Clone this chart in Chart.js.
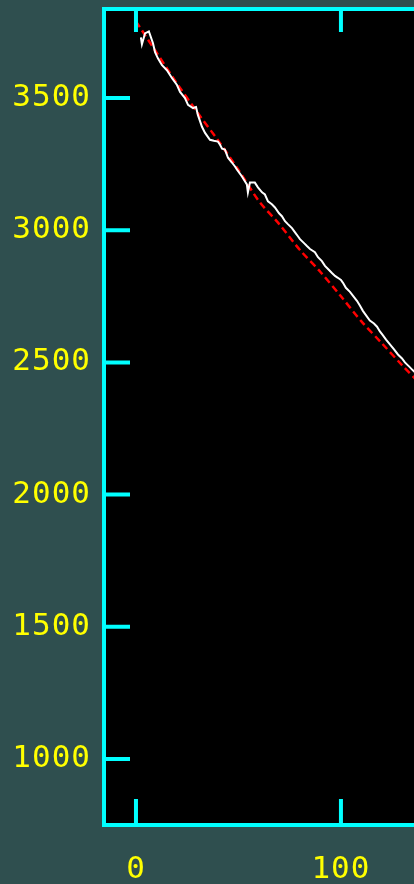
<!DOCTYPE html>
<html>
<head>
<meta charset="utf-8">
<script src="https://cdn.jsdelivr.net/npm/chart.js@4/dist/chart.umd.min.js"></script>
<style>
  html, body { margin: 0; padding: 0; background: #2f4f4f; overflow: hidden; width: 414px; height: 884px; }
  #wrap { width: 414px; height: 884px; overflow: hidden; }
  canvas { display: block; }
</style>
</head>
<body>
<div id="wrap"><canvas id="c" width="800" height="884"></canvas></div>
<script>
// Measured profile (white trace)
const obsX = [2.4, 2.9, 4.4, 6.3, 8.3, 9.3, 10.7, 12.7, 15.1, 17.6, 20.0, 21.5, 23.9, 25.4, 27.8,
  29.3, 30.2, 32.2, 33.7, 36.1, 38.0, 40.0, 41.0, 42.0, 43.4, 44.9, 46.8, 48.3, 49.3, 51.7,
  53.2, 54.1, 54.6, 55.6, 58.0, 59.5, 61.5, 62.9, 64.4, 66.3, 67.8, 69.8, 71.2, 72.7, 74.1,
  76.1, 77.6, 79.0, 80.0, 82.0, 83.4, 84.9, 87.3, 88.8, 90.7, 92.2, 93.7, 95.6, 97.1, 98.5,
  100.0, 101.0, 102.4, 104.4, 105.9, 107.8, 109.3, 110.7, 112.7, 114.1, 116.1, 117.6, 119.0,
  120.5, 122.0, 123.9, 125.9, 127.8, 129.8, 131.2, 133.2, 135.1, 137.1];
const obsY = [3729, 3703, 3744, 3752, 3707, 3673, 3650, 3624, 3605, 3575, 3549, 3523, 3500, 3474, 3462,
  3466, 3436, 3391, 3368, 3342, 3338, 3335, 3323, 3308, 3305, 3274, 3256, 3241, 3229, 3203,
  3184, 3173, 3143, 3180, 3180, 3162, 3143, 3135, 3109, 3098, 3086, 3064, 3053, 3034, 3023,
  3008, 2992, 2977, 2966, 2951, 2940, 2929, 2917, 2898, 2883, 2865, 2853, 2838, 2827, 2820,
  2812, 2801, 2782, 2767, 2752, 2733, 2714, 2695, 2673, 2658, 2647, 2635, 2617,
  2602, 2586, 2568, 2549, 2530, 2515, 2500, 2485, 2470, 2455];

// Fitted curve (red dashed)
const fitX = [0, 10, 20, 30, 40, 50, 60, 70, 80, 90, 100, 110, 120, 130, 140];
const fitY = [3790, 3672, 3555, 3445, 3340, 3228, 3110, 3022, 2925, 2842, 2750, 2655, 2572, 2488, 2408];

// Tick values
const xTicks = [0, 100, 200, 300];
const yTicks = [1000, 1500, 2000, 2500, 3000, 3500];

const CYAN = '#00ffff';
const YELLOW = '#ffff00';
const FONT = { family: 'DejaVu Sans Mono', size: 31 };

const framePlugin = {
  id: 'frame',
  beforeDraw(chart) {
    const { ctx, chartArea: a } = chart;
    ctx.save();
    ctx.fillStyle = '#000000';
    ctx.fillRect(a.left, a.top, a.right - a.left, a.bottom - a.top);
    ctx.restore();
    ctx.letterSpacing = '1px';
  },
  afterDraw(chart) {
    const { ctx, chartArea: a, scales } = chart;
    const tl = 26;
    ctx.save();
    ctx.strokeStyle = CYAN;
    ctx.lineWidth = 4;
    ctx.lineCap = 'square';
    ctx.beginPath();
    // axis frame: left, bottom, top
    ctx.moveTo(a.right, a.top); ctx.lineTo(a.left, a.top);
    ctx.lineTo(a.left, a.bottom); ctx.lineTo(a.right, a.bottom);
    ctx.stroke();
    ctx.lineCap = 'butt';
    ctx.beginPath();
    scales.y.ticks.forEach(t => {
      const py = scales.y.getPixelForValue(t.value);
      ctx.moveTo(a.left, py); ctx.lineTo(a.left + tl, py);
    });
    scales.x.ticks.forEach(t => {
      const px = scales.x.getPixelForValue(t.value);
      ctx.moveTo(px, a.bottom); ctx.lineTo(px, a.bottom - tl);
      ctx.moveTo(px, a.top); ctx.lineTo(px, a.top + tl - 3);
    });
    ctx.stroke();
    ctx.restore();
  }
};

const plain = v => String(v);

new Chart(document.getElementById('c'), {
  type: 'line',
  data: {
    datasets: [
      {
        data: obsX.map((x, i) => ({ x, y: obsY[i] })),
        borderColor: '#ffffff',
        borderWidth: 2,
        pointRadius: 0,
        tension: 0
      },
      {
        data: fitX.map((x, i) => ({ x, y: fitY[i] })),
        borderColor: '#ff0000',
        borderWidth: 2.5,
        borderDash: [7, 4],
        pointRadius: 0,
        tension: 0.3
      }
    ]
  },
  options: {
    responsive: false,
    devicePixelRatio: 1,
    animation: false,
    events: [],
    layout: { padding: { top: 9, right: 20, left: 0, bottom: 0 } },
    plugins: { legend: { display: false }, tooltip: { enabled: false } },
    scales: {
      x: {
        type: 'linear',
        position: 'bottom',
        min: -15.6,
        max: 314.2,
        grid: { display: false, drawTicks: false },
        border: { display: false },
        ticks: { color: YELLOW, font: FONT, padding: 26, maxRotation: 0, autoSkip: false, callback: plain },
        afterBuildTicks: s => { s.ticks = xTicks.map(v => ({ value: v })); },
        afterFit: s => { s.height = 59; s.paddingLeft = 0; s.paddingRight = 0; }
      },
      y: {
        type: 'linear',
        position: 'left',
        min: 750.4,
        max: 3836.6,
        grid: { display: false, drawTicks: false },
        border: { display: false },
        ticks: { color: YELLOW, font: FONT, padding: 13, autoSkip: false, callback: plain },
        afterBuildTicks: s => { s.ticks = yTicks.map(v => ({ value: v })); },
        afterFit: s => { s.width = 104; s.paddingTop = 0; s.paddingBottom = 0; }
      }
    }
  },
  plugins: [framePlugin]
});
</script>
</body>
</html>
